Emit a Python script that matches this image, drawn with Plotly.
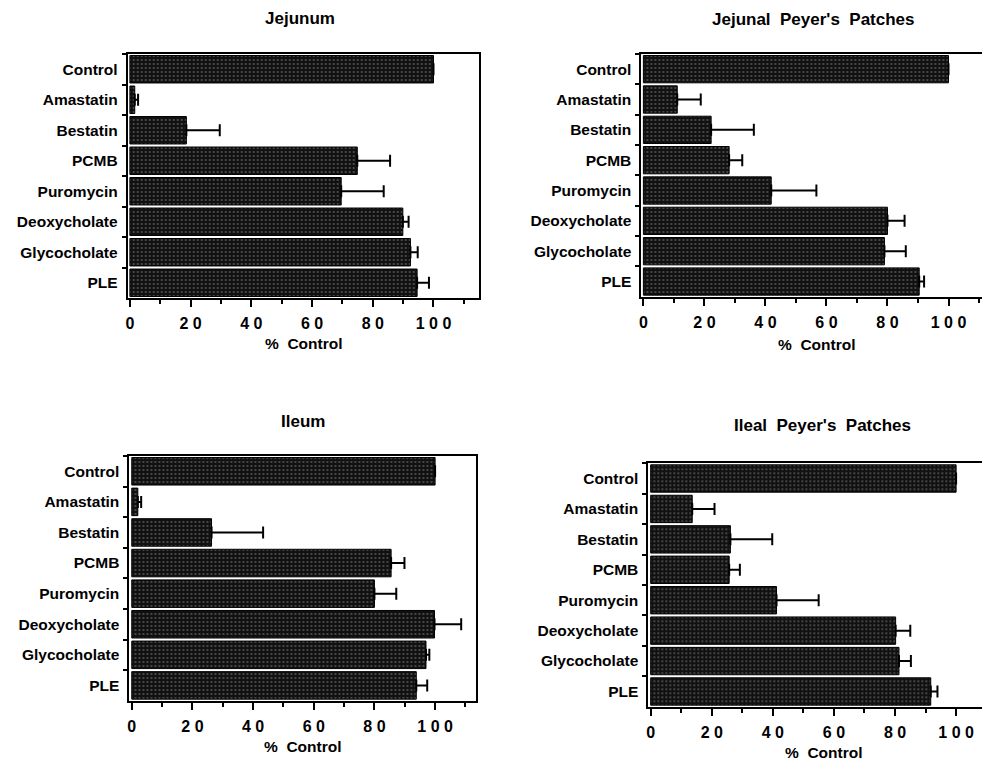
import plotly.graph_objects as go

categories = ["Control", "Amastatin", "Bestatin", "PCMB", "Puromycin",
              "Deoxycholate", "Glycocholate", "PLE"]

panel_titles = ["Jejunum", "Jejunal  Peyer's  Patches", "Ileum", "Ileal  Peyer's  Patches"]
x_axis_title = "%  Control"

jejunum_vals = [100, 1.6, 18.6, 74.9, 69.6, 89.9, 92.4, 94.6]
jejunum_err = [0, 1.1, 11.0, 10.8, 14.0, 1.9, 2.4, 3.9]

jejunal_pp_vals = [100, 11.1, 22.2, 28.1, 41.9, 80.0, 79.0, 90.4]
jejunal_pp_err = [0, 7.7, 14.0, 4.3, 14.8, 5.6, 7.0, 1.6]

ileum_vals = [100, 2.0, 26.3, 85.5, 80.0, 99.8, 97.0, 93.8]
ileum_err = [0, 1.1, 17.0, 4.4, 7.2, 8.8, 1.1, 3.6]

ileal_pp_vals = [100, 13.6, 26.1, 25.7, 41.2, 80.2, 81.3, 91.7]
ileal_pp_err = [0, 7.3, 13.7, 3.5, 13.8, 4.8, 3.9, 2.2]

x_tick_vals = [0, 20, 40, 60, 80, 100]
x_tick_text = ["0", "2 0", "4 0", "6 0", "8 0", "1 0 0"]

# the page body keeps its default 8px margin, so the figure sits at (8, 8)
OFF = 8
W, H = 990 - OFF, 760 - OFF
FONT = "Liberation Sans, Arial, Helvetica, sans-serif"


def px_x(p):
    return (p - OFF) / W


def px_y(p):
    return 1 - (p - OFF) / H


# panel geometry (pixel boxes in the 990x760 window) and axis ranges
panels = [
    dict(vals=jejunum_vals, err=jejunum_err, x0=126, x1=478, top=54, bot=298,
         xr=[-0.7, 115], right=True, title_xy=(299, 18), xt_xy=(303, 343)),
    dict(vals=jejunal_pp_vals, err=jejunal_pp_err, x0=640.7, x1=990, top=54, bot=296.7,
         xr=[-0.65, 113.6], right=False, title_xy=(813, 19), xt_xy=(817, 344)),
    dict(vals=ileum_vals, err=ileum_err, x0=127.7, x1=475, top=456, bot=700.7,
         xr=[-0.76, 113.5], right=True, title_xy=(302, 421), xt_xy=(302, 746)),
    dict(vals=ileal_pp_vals, err=ileal_pp_err, x0=647.7, x1=990, top=463.3, bot=706.7,
         xr=[-0.75, 111.1], right=False, title_xy=(822, 425), xt_xy=(824, 752)),
]

fig = go.Figure()
layout = dict(
    width=W, height=H,
    margin=dict(l=0, r=0, t=0, b=0),
    paper_bgcolor="white", plot_bgcolor="white",
    showlegend=False, bargap=0.1,
    font=dict(family=FONT, color="black", size=15, weight="bold"),
    annotations=[],
)

for i, p in enumerate(panels):
    n = "" if i == 0 else str(i + 1)
    fig.add_trace(go.Bar(
        x=p["vals"], y=categories, orientation="h",
        xaxis="x" + n, yaxis="y" + n,
        marker=dict(
            color="#121212",
            line=dict(color="black", width=1),
            pattern=dict(shape=".", fillmode="replace", bgcolor="#111111",
                         fgcolor="#5a5a5a", size=4, solidity=0.18),
        ),
        error_x=dict(type="data", array=p["err"], arrayminus=[0] * len(p["err"]),
                     symmetric=False, visible=True, color="black",
                     thickness=2, width=6),
        hoverinfo="skip",
    ))
    layout["xaxis" + n] = dict(
        domain=[px_x(p["x0"]), min(1.0, px_x(p["x1"]))],
        anchor="y" + n, range=p["xr"],
        tickvals=x_tick_vals, ticktext=x_tick_text,
        ticks="outside", ticklen=7, tickwidth=1.8, tickcolor="black",
        minor=dict(dtick=10, tick0=0, ticks="outside", ticklen=4, tickwidth=1.5,
                   tickcolor="black"),
        showline=True, linecolor="black", linewidth=2, mirror=True,
        showgrid=False, zeroline=False, fixedrange=True,
        tickfont=dict(family=FONT, size=16, color="black", weight="bold"),
        ticklabelstandoff=3,
    )
    layout["yaxis" + n] = dict(
        domain=[px_y(p["bot"]), px_y(p["top"])],
        anchor="x" + n, type="category",
        categoryorder="array", categoryarray=categories,
        range=[7.5, -0.5],
        tickson="boundaries", ticks="outside", ticklen=4, tickwidth=1.8,
        tickcolor="black",
        showline=True, linecolor="black", linewidth=2, mirror=p["right"],
        showgrid=False, zeroline=False, fixedrange=True,
        tickfont=dict(family=FONT, size=15.5, color="black", weight="bold"),
        ticklabelstandoff=5,
    )
    tx, ty = p["title_xy"]
    layout["annotations"].append(dict(
        text=panel_titles[i], x=px_x(tx), y=px_y(ty), xref="paper", yref="paper",
        xanchor="center", yanchor="middle", showarrow=False,
        font=dict(family=FONT, size=17, color="black", weight="bold"),
    ))
    ax, ay = p["xt_xy"]
    layout["annotations"].append(dict(
        text=x_axis_title, x=px_x(ax), y=px_y(ay), xref="paper", yref="paper",
        xanchor="center", yanchor="middle", showarrow=False,
        font=dict(family=FONT, size=15.5, color="black", weight="bold"),
    ))

fig.update_layout(**layout)
fig.write_html("out.html")
